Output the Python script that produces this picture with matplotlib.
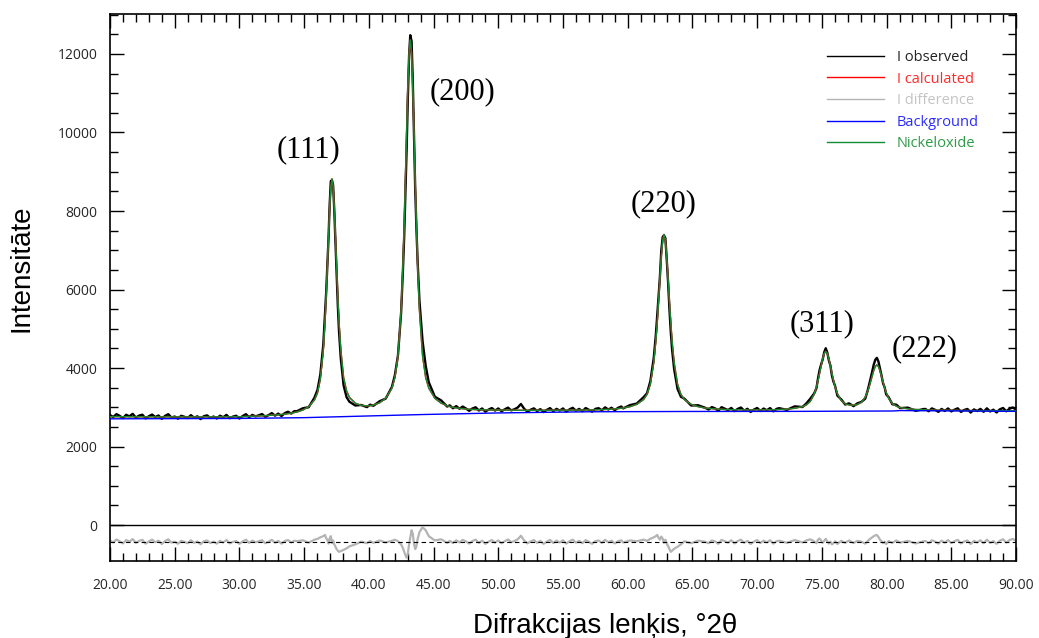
import numpy as np
import matplotlib.pyplot as plt
from matplotlib.ticker import MultipleLocator, FixedLocator, FormatStrFormatter

plt.rcParams['font.family'] = ['Open Sans', 'DejaVu Sans']

# 2theta samples, calculated intensity and residual (obs - calc)
# flat part before (111)
tt_a = [20.00, 20.25, 20.50, 20.75, 21.00, 21.25, 21.50, 21.75, 22.00, 22.25,
        22.50, 22.75, 23.00, 23.25, 23.50, 23.75, 24.00, 24.25, 24.50, 24.75,
        25.00, 25.25, 25.50, 25.75, 26.00, 26.25, 26.50, 26.75, 27.00, 27.25,
        27.50, 27.75, 28.00, 28.25, 28.50, 28.75, 29.00, 29.25, 29.50, 29.75,
        30.00, 30.25, 30.50, 30.75, 31.00, 31.25, 31.50, 31.75, 32.00, 32.25,
        32.50, 32.75, 33.00, 33.25, 33.50, 33.75, 34.00, 34.25]
calc_a = [2761, 2761, 2760, 2760, 2759, 2759, 2758, 2758, 2757, 2757,
          2756, 2756, 2756, 2755, 2755, 2755, 2754, 2754, 2754, 2754,
          2754, 2754, 2753, 2753, 2754, 2754, 2754, 2754, 2753, 2753,
          2753, 2753, 2754, 2754, 2755, 2755, 2756, 2756, 2757, 2758,
          2758, 2761, 2764, 2767, 2770, 2773, 2777, 2781, 2786, 2790,
          2796, 2801, 2808, 2816, 2825, 2836, 2849, 2866]
diff_a = [40, -10, 65, 20, -35, 50, 10, 75, -20, 30,
          55, -40, 15, 60, -5, 35, -50, 25, 70, -15,
          10, -45, 30, 5, -30, 45, -20, 15, -55, 20,
          40, -25, 10, -40, 30, -10, 50, -35, 5, 25,
          -45, 15, 60, -20, 35, -5, 20, 45, -30, 10,
          55, -15, 30, -40, 25, 50, -10, 35]

# (111)
tt_111 = [34.45, 34.90, 35.35, 35.80, 36.03, 36.25, 36.48, 36.61, 36.70, 36.79,
          36.88, 36.97, 37.06, 37.15, 37.24, 37.33, 37.42, 37.51, 37.60, 37.69,
          37.83, 38.05, 38.28, 38.50, 38.95, 39.40, 39.85, 40.10]
calc_111 = [2880, 2929, 3015, 3187, 3363, 3712, 4448, 5180, 5810, 6538,
            7318, 8057, 8609, 8819, 8613, 8064, 7329, 6553, 5830, 5204,
            4478, 3753, 3415, 3251, 3104, 3048, 3033, 3041]
diff_111 = [20, 45, -15, 60, 80, 120, 150, 180, 100, 60,
            -40, 90, 150, -30, 40, -60, -120, -180, -220, -250,
            -230, -200, -160, -110, -60, 10, -30, 25]

# (200)
tt_200 = [40.35, 40.83, 41.30, 41.78, 42.01, 42.25, 42.49, 42.63, 42.73, 42.82,
          42.92, 43.01, 43.11, 43.20, 43.30, 43.39, 43.49, 43.58, 43.68, 43.77,
          43.91, 44.15, 44.39, 44.63, 45.10, 45.58, 46.05]
calc_200 = [3057, 3113, 3230, 3486, 3757, 4303, 5458, 6615, 7609, 8759,
            9990, 11157, 12030, 12359, 12030, 11157, 9991, 8760, 7610, 6616,
            5459, 4304, 3758, 3487, 3228, 3106, 3038]
diff_200 = [-20, 40, -10, 30, 60, 20, -60, -150, -250, -330,
            -400, -300, -50, 120, 300, 220, -50, -180, -100, 80,
            250, 380, 300, 150, 40, 70, -20]

# between (200) and (220)
tt_b = [46.25, 46.50, 46.75, 47.00, 47.25, 47.50, 47.75, 48.00, 48.25, 48.50,
        48.75, 49.00, 49.25, 49.50, 49.75, 50.00, 50.25, 50.50, 50.75, 51.00,
        51.25, 51.50, 51.75, 52.00, 52.25, 52.50, 52.75, 53.00, 53.25, 53.50,
        53.75, 54.00, 54.25, 54.50, 54.75, 55.00, 55.25, 55.50, 55.75, 56.00,
        56.25, 56.50, 56.75, 57.00, 57.25, 57.50, 57.75, 58.00, 58.25, 58.50,
        58.75, 59.00, 59.25, 59.50]
calc_b = [3018, 2999, 2984, 2972, 2963, 2954, 2949, 2944, 2940, 2937,
          2934, 2933, 2931, 2930, 2930, 2930, 2928, 2927, 2926, 2925,
          2924, 2923, 2923, 2922, 2922, 2922, 2922, 2922, 2922, 2922,
          2923, 2923, 2924, 2924, 2925, 2925, 2926, 2926, 2926, 2927,
          2928, 2929, 2930, 2931, 2932, 2934, 2937, 2940, 2943, 2947,
          2952, 2958, 2965, 2974]
diff_b = [30, -25, 45, -10, 55, 15, -40, 25, 60, -20,
          35, -45, 10, 50, -15, 40, -30, 20, 65, -5,
          25, 70, 160, 40, -35, 15, 50, -20, 30, -45,
          10, 55, -25, 35, -10, 45, -40, 20, 60, -15,
          30, -30, 50, 5, -45, 25, 40, -20, 55, -5,
          35, -35, 20, 45]

# (220)
tt_220 = [59.65, 60.18, 60.70, 61.23, 61.49, 61.75, 62.01, 62.17, 62.28, 62.38,
          62.49, 62.59, 62.70, 62.80, 62.91, 63.01, 63.12, 63.22, 63.33, 63.43,
          63.59, 63.85, 64.11, 64.38, 64.90, 65.43, 65.95]
calc_220 = [2981, 3015, 3074, 3198, 3326, 3586, 4133, 4681, 5152, 5697,
            6280, 6833, 7246, 7402, 7247, 6834, 6281, 5698, 5153, 4682,
            4134, 3587, 3327, 3199, 3075, 3016, 2982]
diff_220 = [-10, 40, 20, 60, 30, 80, 120, 150, 180, 110,
            60, 140, 90, -20, 60, -40, -100, -180, -250, -220,
            -170, -120, -60, 20, -30, 35, 10]

# between (220) and (311)
tt_c = [66.25, 66.50, 66.75, 67.00, 67.25, 67.50, 67.75, 68.00, 68.25, 68.50,
        68.75, 69.00, 69.25, 69.50, 69.75, 70.00, 70.25, 70.50, 70.75, 71.00,
        71.25, 71.50]
calc_c = [2972, 2964, 2957, 2952, 2947, 2943, 2941, 2938, 2936, 2934,
          2933, 2932, 2931, 2931, 2931, 2931, 2931, 2932, 2933, 2934,
          2936, 2939]
diff_c = [-30, 40, 15, -45, 55, 20, -15, 45, -35, 25,
          60, -20, 30, -50, 10, 50, -25, 35, -10, 45,
          -40, 20]

# (311)
tt_311 = [71.70, 72.30, 72.90, 73.50, 73.80, 74.10, 74.40, 74.58, 74.70, 74.82,
          74.94, 75.06, 75.18, 75.30, 75.42, 75.54, 75.66, 75.78, 75.90, 76.02,
          76.20, 76.50, 76.80, 77.10]
calc_311 = [2942, 2953, 2973, 3015, 3058, 3146, 3329, 3513, 3670, 3853,
            4048, 4232, 4371, 4424, 4373, 4236, 4053, 3861, 3680, 3525,
            3345, 3169, 3090, 3059]
diff_311 = [35, -20, 50, -10, 40, 70, 20, -30, 60, 90,
            40, -20, 30, 80, 20, -40, 10, -60, -30, 20,
            -50, 30, -20, 40]

# (222)
tt_222 = [77.45, 77.75, 78.05, 78.35, 78.53, 78.65, 78.77, 78.89, 79.01, 79.13,
          79.25, 79.37, 79.49, 79.61, 79.73, 79.85, 79.97, 80.15, 80.45, 80.75,
          81.05, 81.65, 82.25, 82.85]
calc_222 = [3053, 3070, 3126, 3258, 3394, 3512, 3649, 3796, 3937, 4040,
            4079, 4037, 3931, 3788, 3638, 3498, 3378, 3237, 3095, 3027,
            2993, 2960, 2943, 2934]
diff_222 = [-25, 30, 10, -40, 20, 60, 90, 120, 150, 170,
            180, 130, 60, 20, -30, 10, -50, 25, -20, 40,
            -15, 30, -35, 20]

# tail to 90
tt_d = [83.00, 83.25, 83.50, 83.75, 84.00, 84.25, 84.50, 84.75, 85.00, 85.25,
        85.50, 85.75, 86.00, 86.25, 86.50, 86.75, 87.00, 87.25, 87.50, 87.75,
        88.00, 88.25, 88.50, 88.75, 89.00, 89.25, 89.50, 89.75, 90.00]
calc_d = [2932, 2928, 2926, 2925, 2923, 2922, 2921, 2920, 2919, 2918,
          2918, 2917, 2916, 2916, 2915, 2915, 2914, 2914, 2914, 2913,
          2913, 2913, 2912, 2912, 2912, 2912, 2912, 2912, 2912]
diff_d = [25, -30, 45, 10, -40, 35, -15, 50, -25, 20,
          55, -35, 15, 40, -50, 30, -10, 45, -30, 60,
          -20, 25, -45, 35, 70, -15, 50, 80, 30]

# refined background
bg_tt = [20, 30, 35, 37.9, 41.3, 44.2, 50, 57, 65, 73, 80.5, 81, 86, 90]
bg_int = [2705, 2715, 2735, 2760, 2790, 2815, 2855, 2885, 2893, 2895, 2905, 2915, 2905, 2895]

diff_offset = -434

peak_labels = ['(111)', '(200)', '(220)', '(311)', '(222)']
label_tt = [35.37, 47.27, 62.80, 75.01, 82.97]
label_int = [9554, 11032, 8178, 5121, 4484]

two_theta = np.concatenate([tt_a, tt_111, tt_200, tt_b, tt_220, tt_c, tt_311, tt_222, tt_d])
i_calc = np.concatenate([calc_a, calc_111, calc_200, calc_b, calc_220, calc_c, calc_311, calc_222, calc_d])
i_diff = np.concatenate([diff_a, diff_111, diff_200, diff_b, diff_220, diff_c, diff_311, diff_222, diff_d])
i_obs = i_calc + i_diff

fig = plt.figure(figsize=(10.39, 6.38), dpi=100)
ax = fig.add_axes([110 / 1039, 1 - 561 / 638, 906 / 1039, 547 / 638])

ax.plot(two_theta, i_obs, color='black', lw=1.7, label='I observed', zorder=3)
ax.plot(two_theta, i_calc, color='red', lw=1.0, label='I calculated', zorder=4)
ax.plot(two_theta, diff_offset + i_diff, color='#b4b4b4', lw=1.6, label='I difference', zorder=2)
ax.plot(bg_tt, bg_int, color='#0000ff', lw=1.0, label='Background', zorder=6)
ax.plot(two_theta, i_calc, color='#138a34', lw=1.0, label='Nickeloxide', zorder=5)

ax.axhline(0, color='black', lw=1.0, zorder=1)
ax.axhline(diff_offset, color='black', lw=0.8, ls=(0, (4, 3)), zorder=3)

for lab, x, y in zip(peak_labels, label_tt, label_int):
    ax.text(x, y, lab, fontsize=22, family='Liberation Serif', ha='center', va='center')

ax.set_xlim(20, 90)
ax.set_ylim(-917, 13019)
ax.xaxis.set_major_locator(MultipleLocator(5))
ax.xaxis.set_minor_locator(MultipleLocator(1))
ax.xaxis.set_major_formatter(FormatStrFormatter('%.2f'))
ax.yaxis.set_major_locator(FixedLocator(np.arange(0, 12001, 2000)))
ax.yaxis.set_minor_locator(FixedLocator(np.arange(0, 13001, 500)))

ax.tick_params(which='both', direction='in', top=True, right=True, width=1.0,
               labelsize=10, labelcolor='#262626')
ax.tick_params(which='major', length=10)
ax.tick_params(which='minor', length=5.5)
ax.tick_params(axis='x', pad=12)
ax.tick_params(axis='y', pad=9)
for sp in ax.spines.values():
    sp.set_linewidth(1.2)

leg = ax.legend(loc='upper left', bbox_to_anchor=(827 / 1039, 1 - 50 / 638),
                bbox_transform=fig.transFigure, frameon=False, fontsize=10.5,
                handlelength=3.9, handletextpad=0.9, labelspacing=0.45,
                borderpad=0, borderaxespad=0,
                labelcolor=['#222222', '#ff2a2a', '#c4c4c4', '#2a2aff', '#2e9a46'])
for line in leg.get_lines():
    line.set_linewidth(1.0)

fig.text(605 / 1039, 1 - 633 / 638, 'Difrakcijas lenķis, °2θ', ha='center', va='baseline',
         fontsize=20, family=['Liberation Sans', 'DejaVu Sans'])
fig.text(22 / 1039, 1 - 268 / 638, 'Intensitāte', rotation=90, ha='center', va='center',
         fontsize=20, family=['Liberation Sans', 'DejaVu Sans'])

fig.savefig('out.png', dpi=100)
